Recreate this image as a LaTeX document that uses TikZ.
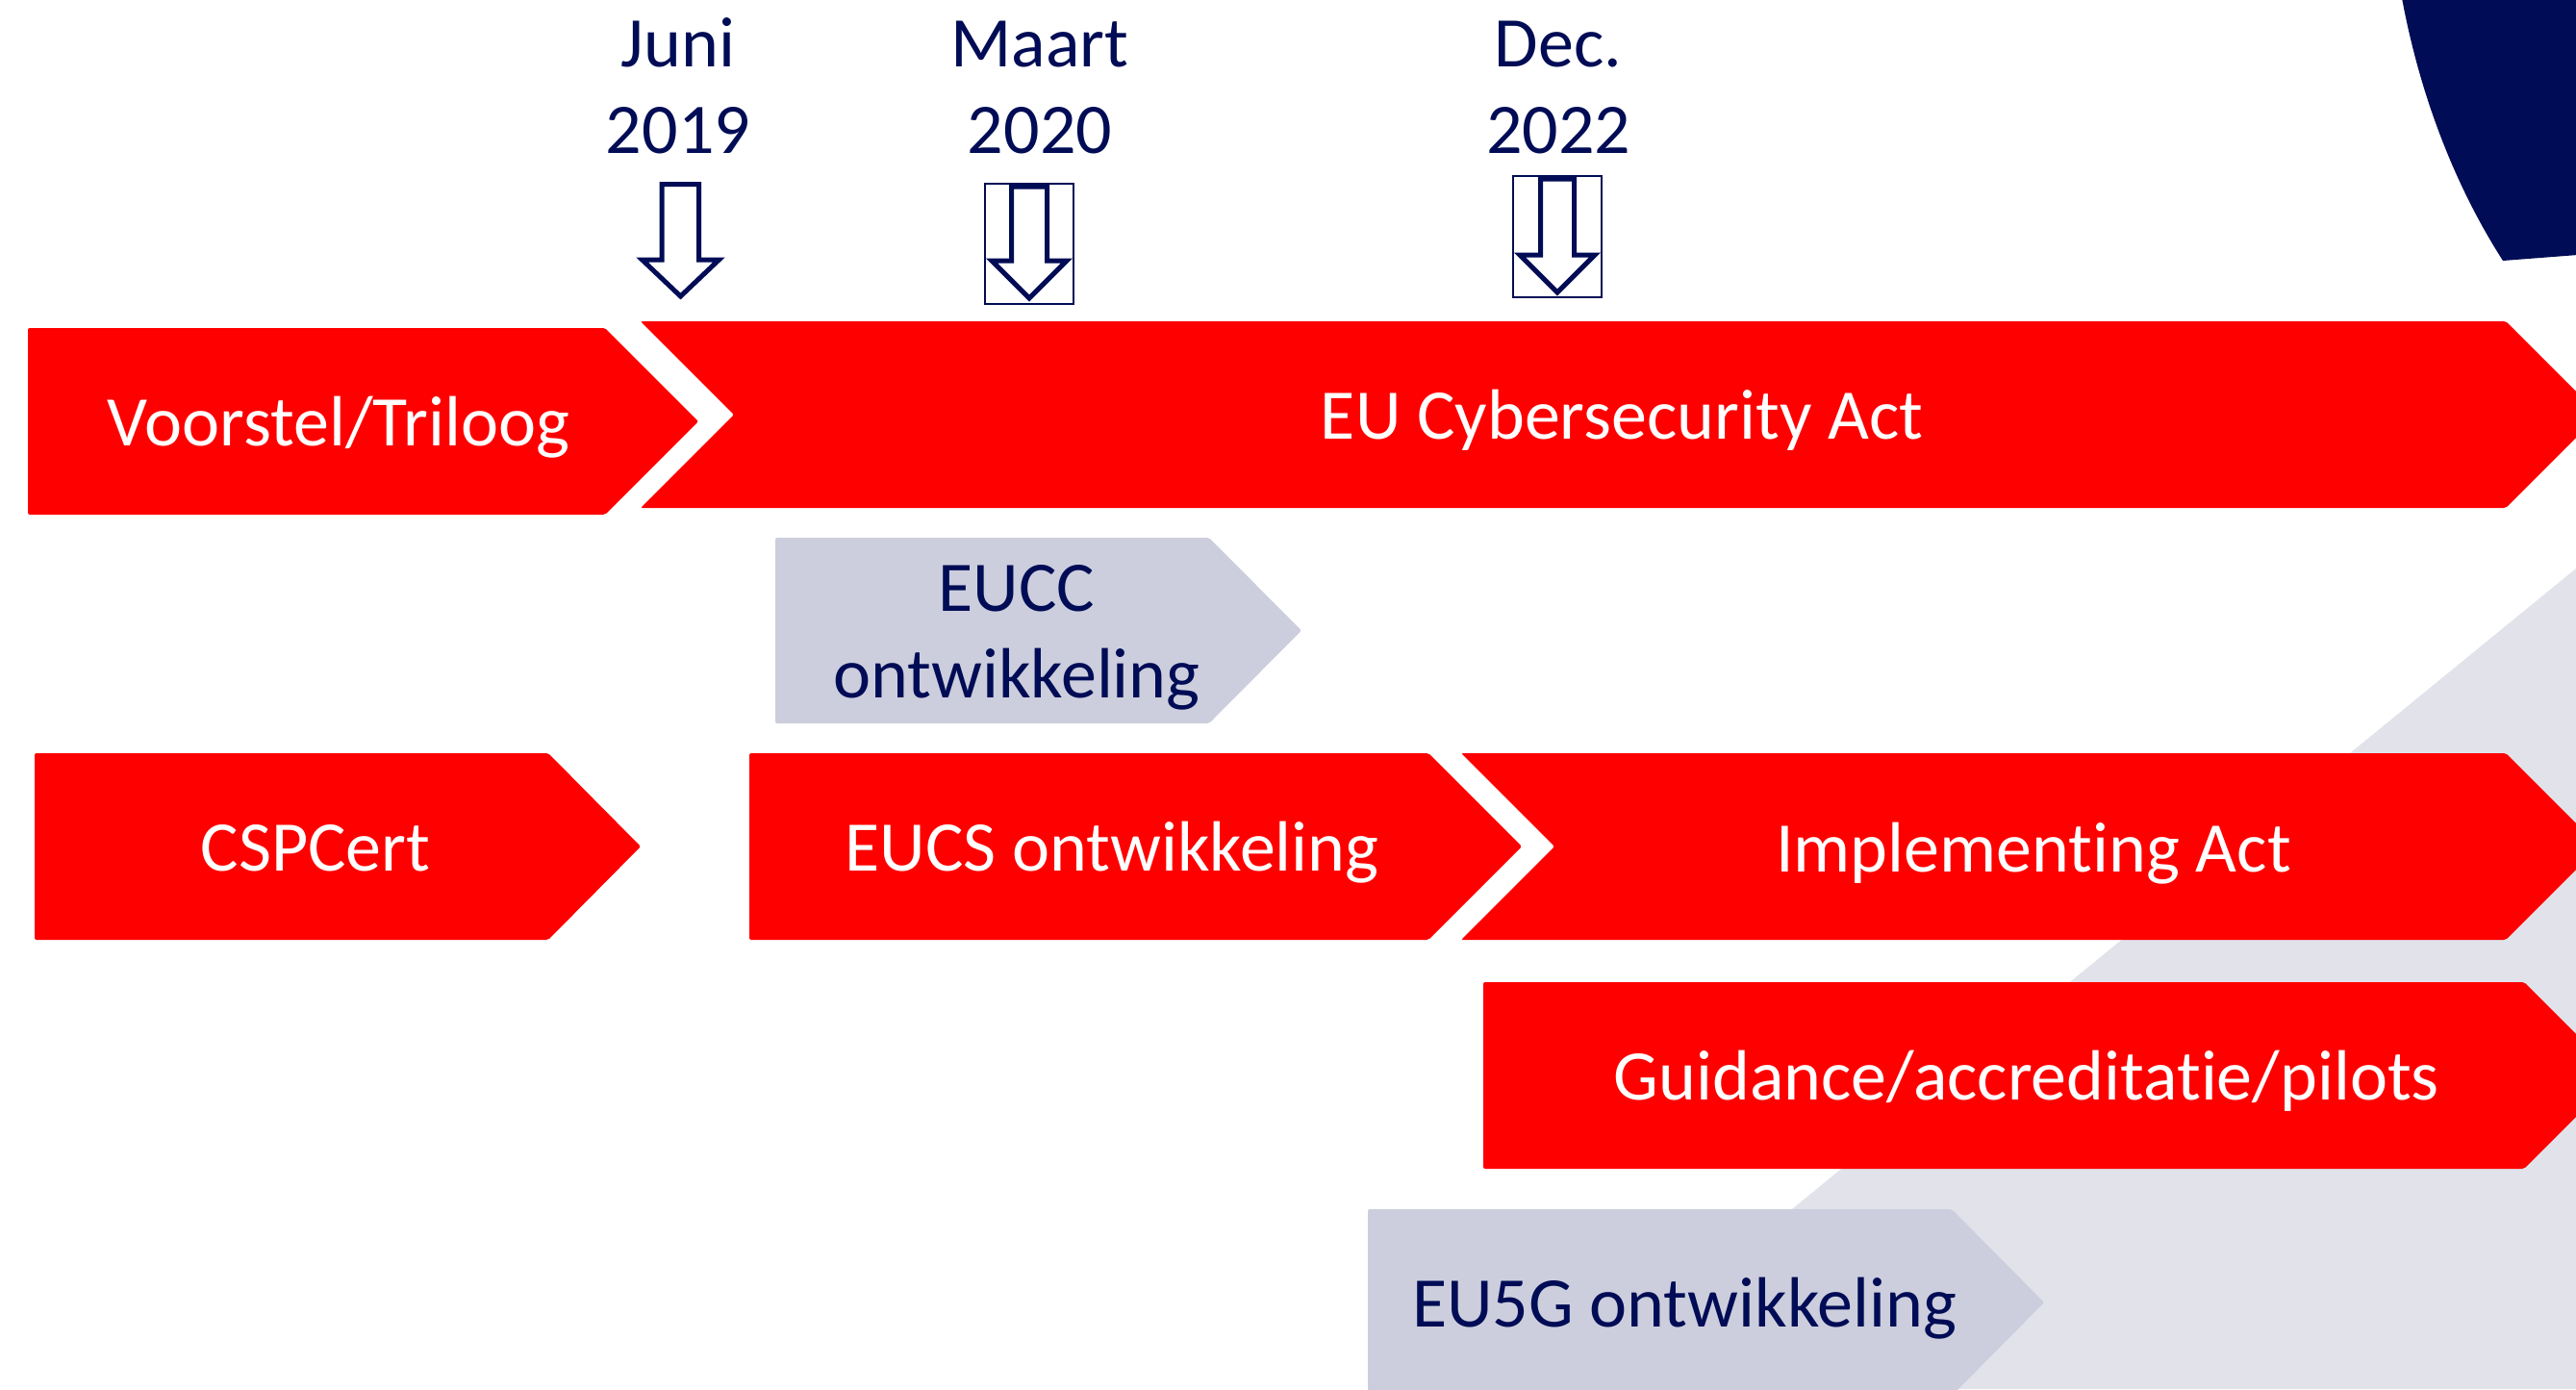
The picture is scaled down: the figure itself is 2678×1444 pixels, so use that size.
\documentclass[tikz,border=0pt]{standalone}
\usepackage{fontspec}
\setmainfont{Carlito}[RawFeature={-liga;-clig;-dlig;-calt}]
\definecolor{navy}{RGB}{0,12,85}
\definecolor{bred}{RGB}{255,0,0}
\definecolor{bgray}{RGB}{204,206,221}
\definecolor{lgray}{RGB}{225,226,234}
\begin{document}
\begin{tikzpicture}[x=1pt,y=-1pt,
  redbar/.style={fill=bred,rounded corners=2pt},
  graybar/.style={fill=bgray,rounded corners=2pt},
  wtxt/.style={text=white,font=\fontsize{74}{90}\selectfont,inner sep=0pt,anchor=base},
  ntxt/.style={text=navy,font=\fontsize{74}{90}\selectfont,inner sep=0pt,anchor=base,align=center},
  hollow/.style={draw=navy,line width=5pt,fill=white,line join=miter},
  markframe/.style={draw=navy,line width=2pt}]
\useasboundingbox (0,0) rectangle (2678,1444);
\clip (0,0) rectangle (2678,1444);
% background shapes
\fill[lgray] (2678,591) -- (1634,1444) -- (2678,1444) -- cycle;
\fill[navy] (2497,-2) .. controls (2515,95) and (2550,190) .. (2602,271)
  -- (2680,265) -- (2680,-2) -- cycle;
% bars
\path[redbar] (29,341) -- (629,341) -- (726,438) -- (629,535) -- (29,535) -- cycle;
\path[redbar] (666,334) -- (2605,334) -- (2702,431) -- (2605,528) -- (666,528) -- (763,431) -- cycle;
\path[graybar] (806,559) -- (1257,559) -- (1353,655.5) -- (1257,752) -- (806,752) -- cycle;
\path[redbar] (36,783) -- (570,783) -- (666,880) -- (570,977) -- (36,977) -- cycle;
\path[redbar] (779,783) -- (1485,783) -- (1582,880) -- (1485,977) -- (779,977) -- cycle;
\path[redbar] (1519,783) -- (2605,783) -- (2702,880) -- (2605,977) -- (1519,977) -- (1616,880) -- cycle;
\path[redbar] (1542,1021) -- (2624,1021) -- (2721,1118) -- (2624,1215) -- (1542,1215) -- cycle;
\path[graybar] (1422,1257) -- (2029,1257) -- (2125,1354) -- (2029,1451) -- (1422,1451) -- cycle;
% texts (base anchor = baseline of the last line)
\node[ntxt] (juni) at (705,159) {Juni\\2019};
\node[ntxt] (maart) at (1081,159) {Maart\\2020};
\node[ntxt] (dec) at (1620,159) {Dec.\\2022};
\node[wtxt] (voorstel) at (352,463) {Voorstel/Triloog};
\node[wtxt] (cyber) at (1686,456) {EU Cybersecurity Act};
\node[ntxt] (eucc) at (1057,725) {EUCC\\ontwikkeling};
\node[wtxt] (csp) at (328,905) {CSPCert};
\node[wtxt] (eucs) at (1156,905) {EUCS ontwikkeling};
\node[wtxt] (impl) at (2114,906) {Implementing Act};
\node[wtxt] (guid) at (2107,1143) {Guidance/accreditatie/pilots};
\node[ntxt] (eu5g) at (1751,1379) {EU5G ontwikkeling};
% milestone arrows
\draw[hollow] (688,191.5) -- (726.5,191.5) -- (726.5,270) -- (747.5,270) -- (707.5,308)
  -- (667.5,270) -- (688,270) -- cycle;
\draw[markframe] (1024,191) rectangle (1116,316);
\draw[hollow] (1051.5,194) -- (1088.5,194) -- (1088.5,271) -- (1109,271) -- (1070,310)
  -- (1031,271) -- (1051.5,271) -- cycle;
\draw[markframe] (1573,183) rectangle (1665,309);
\draw[hollow] (1601.5,186) -- (1636.5,186) -- (1636.5,265) -- (1658,265) -- (1619,304)
  -- (1580,265) -- (1601.5,265) -- cycle;
\end{tikzpicture}
\end{document}
